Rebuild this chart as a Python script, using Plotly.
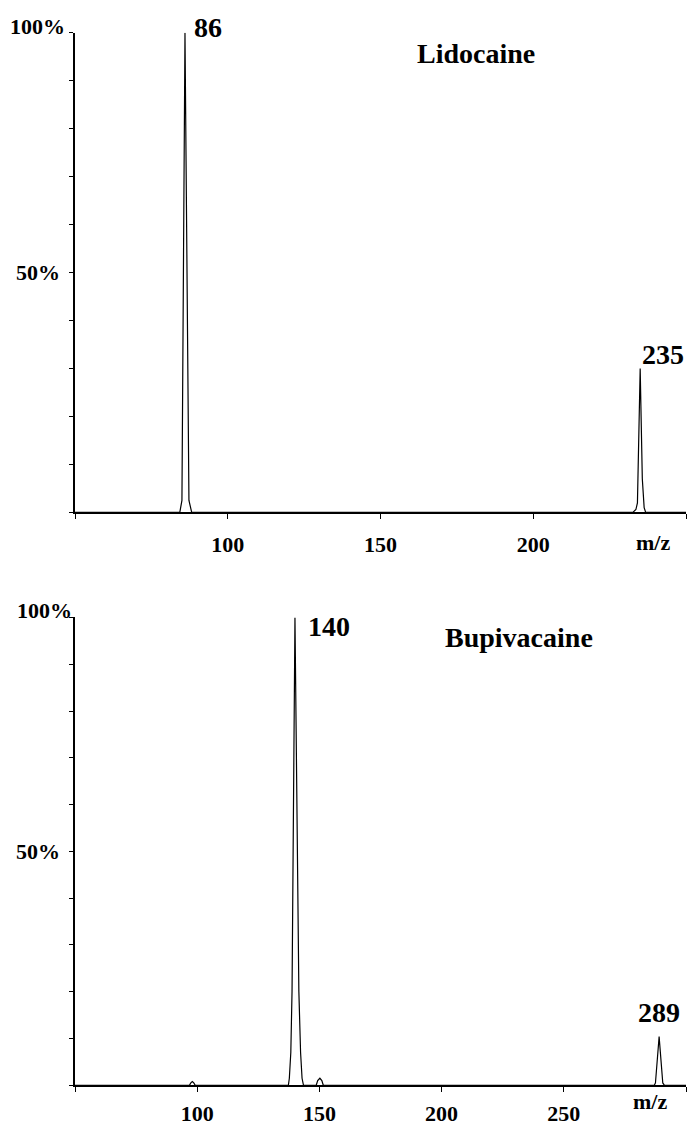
import plotly.graph_objects as go

W, H = 687, 1126

# ---- data ----
# Lidocaine spectrum profile (m/z, relative intensity %)
mz_lido = [50, 84.3, 85.0, 86.0, 87.3, 88.2, 232.6, 233.6, 234.1, 235.0, 235.7, 236.3, 236.8, 250]
int_lido = [0, 0, 2.5, 100, 2.5, 0, 0, 0.6, 2.0, 30.0, 7.0, 1.0, 0, 0]

# Bupivacaine spectrum profile (m/z, relative intensity %)
mz_bupi = [50, 96.8, 97.4, 98.0, 98.6, 99.2, 137.3, 137.7, 138.3, 138.8, 140.0, 141.6, 142.3, 142.9, 143.5,
           148.7, 149.3, 150.2, 151.0, 151.6, 287.0, 287.5, 289.0, 290.5, 291.2, 300]
int_bupi = [0, 0, 0.5, 0.8, 0.5, 0, 0, 1.5, 7.0, 20.0, 100, 20.0, 7.0, 1.5, 0,
            0, 1.0, 1.5, 1.0, 0, 0, 0.5, 10.4, 0.5, 0, 0]

lido_peaks = [86, 235]
lido_peak_int = [100, 30]
bupi_peaks = [140, 289]
bupi_peak_int = [100, 10.4]

x_ticks_lido = [50, 100, 150, 200, 250]
x_ticktext_lido = ["", "100", "150", "200", ""]
x_ticks_bupi = [50, 100, 150, 200, 250, 300]
x_ticktext_bupi = ["", "100", "150", "200", "250", ""]
y_ticks = [0, 10, 20, 30, 40, 50, 60, 70, 80, 90, 100]
x_range_lido = [50, 250]
x_range_bupi = [50, 300]
y_range = [0, 100]
titles = ["Lidocaine", "Bupivacaine"]
y_labels = ["100%", "50%"]
x_unit = "m/z"

FONT = "Liberation Serif, Times New Roman, serif"


def px(x, y):
    return x / W, 1 - y / H


fig = go.Figure()
fig.add_trace(go.Scatter(x=mz_lido, y=int_lido, mode="lines",
                         line=dict(color="black", width=1.2), xaxis="x", yaxis="y",
                         showlegend=False, hoverinfo="skip"))
fig.add_trace(go.Scatter(x=mz_bupi, y=int_bupi, mode="lines",
                         line=dict(color="black", width=1.2), xaxis="x2", yaxis="y2",
                         showlegend=False, hoverinfo="skip"))

xl, xr = 75, 686
top_y0, top_y1 = 517, 33
bot_y0, bot_y1 = 1095, 623

common_x = dict(showgrid=False, zeroline=False, showline=True, linecolor="black", linewidth=1.5,
                ticks="outside", ticklen=5, tickwidth=1, tickcolor="black",
                tickfont=dict(family=FONT, size=22, color="black"), fixedrange=True)
common_y = dict(showgrid=False, zeroline=False, showline=True, linecolor="black", linewidth=1.5,
                ticks="outside", ticklen=4, tickwidth=1, tickcolor="black",
                showticklabels=False, tickvals=y_ticks, range=y_range, fixedrange=True)

fig.update_layout(
    width=W, height=H, autosize=False,
    margin=dict(l=0, r=0, t=0, b=0),
    paper_bgcolor="white", plot_bgcolor="white",
    xaxis=dict(domain=[xl / W, xr / W], anchor="y", range=x_range_lido,
               tickvals=x_ticks_lido, ticktext=[f"<b>{t}</b>" if t else "" for t in x_ticktext_lido],
               ticklabelstandoff=6, **common_x),
    yaxis=dict(domain=[1 - top_y0 / H, 1 - top_y1 / H], anchor="x", **common_y),
    xaxis2=dict(domain=[xl / W, xr / W], anchor="y2", range=x_range_bupi,
                tickvals=x_ticks_bupi, ticktext=[f"<b>{t}</b>" if t else "" for t in x_ticktext_bupi],
                ticklabelstandoff=3, **common_x),
    yaxis2=dict(domain=[1 - bot_y0 / H, 1 - bot_y1 / H], anchor="x2", **common_y),
)

ann = []


def text_px(t, x, y, size):
    ax, ay = px(x, y)
    ann.append(dict(text=f"<b>{t}</b>", x=ax, y=ay, xref="paper", yref="paper",
                    xanchor="center", yanchor="middle", showarrow=False,
                    font=dict(family=FONT, size=size, color="black")))


def peak_label(xref, yref, mz, inten, xshift, yshift, anchor):
    ann.append(dict(text=f"<b>{mz}</b>", x=mz, y=inten, xref=xref, yref=yref,
                    xanchor=anchor, yanchor="middle", xshift=xshift, yshift=yshift,
                    showarrow=False, font=dict(family=FONT, size=28, color="black")))


# y-axis labels
text_px(y_labels[0], 37, 27, 22)
text_px(y_labels[1], 38, 275, 22)
text_px(y_labels[0], 44, 616, 22)
text_px(y_labels[1], 38, 859, 22)

# titles
text_px(titles[0], 476, 54, 28)
text_px(titles[1], 519, 643, 28)

# m/z unit labels
text_px(x_unit, 653, 547, 22)
text_px(x_unit, 650, 1111, 22)

# peak labels
peak_label("x", "y", lido_peaks[0], lido_peak_int[0], 7, 5, "left")
peak_label("x", "y", lido_peaks[1], lido_peak_int[1], 0, 14, "left")
peak_label("x2", "y2", bupi_peaks[0], bupi_peak_int[0], 11, -9, "left")
peak_label("x2", "y2", bupi_peaks[1], bupi_peak_int[1], 0, 24, "center")

fig.update_layout(annotations=ann)
fig.write_html("out.html")
